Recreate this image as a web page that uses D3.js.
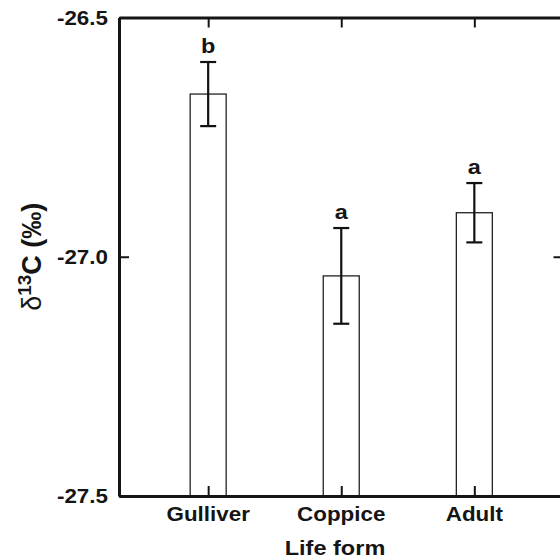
<!DOCTYPE html>
<html>
<head>
<meta charset="utf-8">
<script src="https://cdn.jsdelivr.net/npm/d3@7"></script>
<style>
  body { margin: 0; background: #fff; }
  svg text { font-family: "Liberation Sans", Arial, Helvetica, sans-serif; font-weight: bold; fill: #151515; }
</style>
</head>
<body>
<script>
// data
var categories = ["Gulliver", "Coppice", "Adult"];
var means = [-26.66, -27.04, -26.908];
var errors = [0.067, 0.10, 0.062];
var letters = ["b", "a", "a"];
var yTicks = [-26.5, -27.0, -27.5];

var W = 560, H = 560;
var mLeft = 119, mRight = 563.5, mTop = 17.5, mBottom = 496;
var sx = 1.12; // text in the original is stretched horizontally

var svg = d3.select("body").append("svg")
    .attr("width", W).attr("height", H);

var y = d3.scaleLinear().domain([-27.5, -26.5]).range([mBottom, mTop]);
var x = d3.scalePoint().domain(categories).range([mLeft, mRight]).padding(0.67);

var fmt = function(v) { return d3.format(".1f")(v).replace("\u2212", "-"); };

// bars
var bars = svg.append("g");
categories.forEach(function(c, i) {
    var cx = x(c);
    bars.append("rect")
        .attr("x", cx - 18)
        .attr("y", y(means[i]))
        .attr("width", 36)
        .attr("height", y(-27.5) - y(means[i]))
        .attr("fill", "#fff")
        .attr("stroke", "#222")
        .attr("stroke-width", 1.3);

    var hi = y(means[i] + errors[i]), lo = y(means[i] - errors[i]);
    bars.append("line")
        .attr("x1", cx).attr("x2", cx).attr("y1", hi).attr("y2", lo)
        .attr("stroke", "#111").attr("stroke-width", 2.2);
    [hi, lo].forEach(function(yy) {
        bars.append("line")
            .attr("x1", cx - 8).attr("x2", cx + 8).attr("y1", yy).attr("y2", yy)
            .attr("stroke", "#111").attr("stroke-width", 2.2);
    });

    svg.append("text")
        .attr("transform", "translate(" + cx + "," + (hi - 9.5) + ") scale(" + sx + ",1)")
        .attr("text-anchor", "middle")
        .style("font-size", "21px")
        .text(letters[i]);
});

// frame with inward ticks
function styleAxis(g) {
    g.select(".domain").attr("stroke", "#151515").attr("stroke-width", 3);
    g.selectAll(".tick line").attr("stroke", "#151515").attr("stroke-width", 2);
    g.selectAll(".tick text").remove();
}

svg.append("g").attr("transform", "translate(" + mLeft + ",0)")
    .call(d3.axisLeft(y).tickValues(yTicks).tickSizeInner(-10).tickSizeOuter(0))
    .call(styleAxis);
svg.append("g").attr("transform", "translate(" + mRight + ",0)")
    .call(d3.axisRight(y).tickValues(yTicks).tickSizeInner(-10).tickSizeOuter(0))
    .call(styleAxis);
svg.append("g").attr("transform", "translate(0," + mTop + ")")
    .call(d3.axisTop(x).tickSizeInner(-10).tickSizeOuter(0))
    .call(styleAxis);
svg.append("g").attr("transform", "translate(0," + mBottom + ")")
    .call(d3.axisBottom(x).tickSizeInner(-10).tickSizeOuter(0))
    .call(styleAxis);

// tick labels
yTicks.forEach(function(v) {
    svg.append("text")
        .attr("transform", "translate(" + (mLeft - 11) + "," + y(v) + ") scale(" + sx + ",1)")
        .attr("text-anchor", "end")
        .attr("dy", "0.36em")
        .style("font-size", "20px")
        .text(fmt(v));
});
categories.forEach(function(c) {
    svg.append("text")
        .attr("transform", "translate(" + x(c) + ",521) scale(" + sx + ",1)")
        .attr("text-anchor", "middle")
        .style("font-size", "20px")
        .text(c);
});

// axis titles
svg.append("text")
    .attr("transform", "translate(335,555) scale(" + sx + ",1)")
    .attr("text-anchor", "middle")
    .style("font-size", "21px")
    .text("Life form");

var yl = svg.append("text")
    .attr("transform", "translate(41," + ((mTop + mBottom) / 2) + ") rotate(-90)")
    .attr("text-anchor", "middle")
    .style("font-size", "27px");
yl.append("tspan").style("font-weight", "normal").text("\u03b4");
yl.append("tspan").attr("baseline-shift", "super").style("font-size", "19px").text("13");
yl.append("tspan").text("C (\u2030)");
</script>
</body>
</html>
